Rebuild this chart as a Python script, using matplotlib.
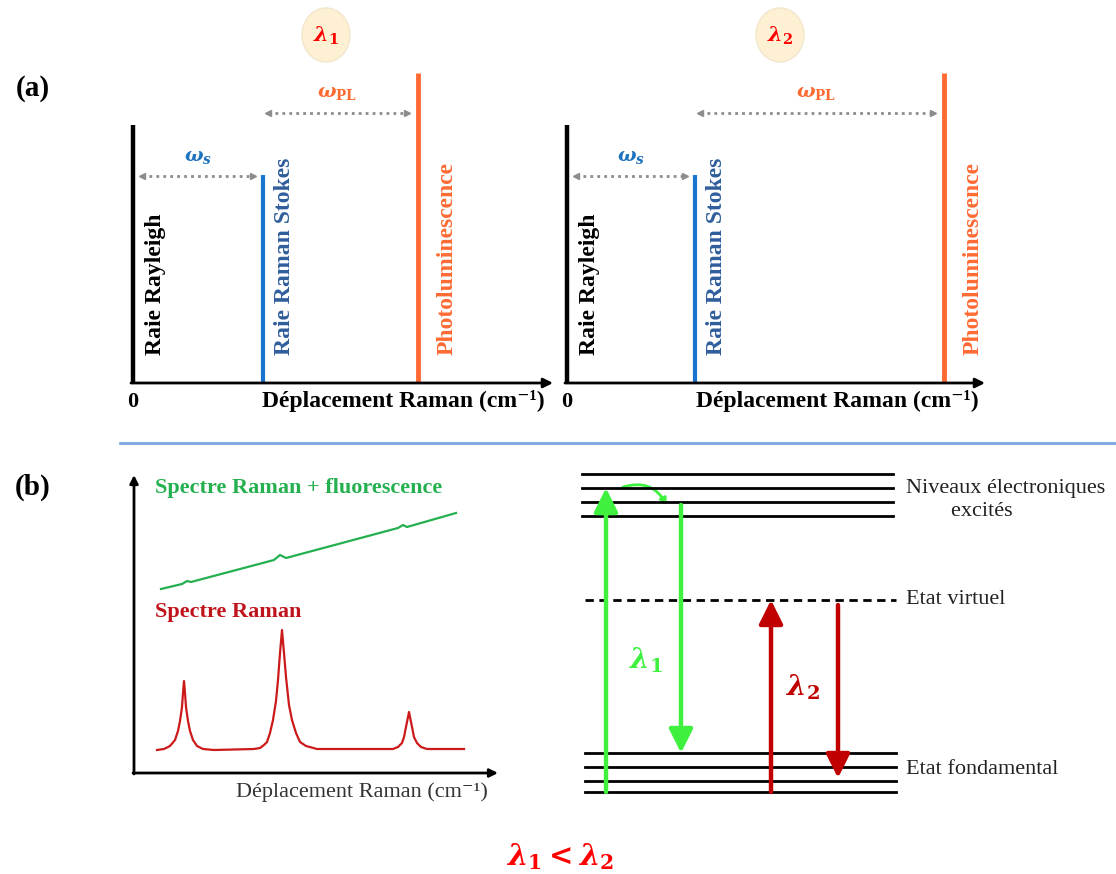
import matplotlib
matplotlib.use("Agg")
import matplotlib.pyplot as plt
from matplotlib.patches import Ellipse, FancyArrowPatch

plt.rcParams["mathtext.fontset"] = "custom"
plt.rcParams["mathtext.it"] = "DejaVu Serif:italic:bold"
plt.rcParams["mathtext.rm"] = "DejaVu Serif:bold"
plt.rcParams["mathtext.bf"] = "DejaVu Serif:bold"

W, H = 1116, 874
SERIF = ["Liberation Serif", "DejaVu Serif"]

# ---- data -------------------------------------------------------------
# panel (a): line positions (shift from Rayleigh) and heights, one entry per sub panel
a_lasers = [r"$\lambda_1$", r"$\lambda_2$"]
a_stokes_x = [130, 128]
a_pl_x = [285, 377]
a_axis_len = [420, 418]
a_heights = [258, 208, 310]          # Rayleigh, Stokes, PL
a_labels = ["Raie Rayleigh", "Raie Raman Stokes", "Photoluminescence"]

# panel (b) left: spectra
raman_x = [23, 30, 36, 41, 44, 46, 48, 49, 50, 51, 52, 54, 56, 59, 63, 69, 80,
           120, 126, 130, 133, 136, 139, 142, 144, 146, 148, 150, 152, 155, 158, 162, 166, 172, 183,
           259, 264, 268, 270, 272, 274, 275, 276, 278, 280, 283, 287, 293, 330]
raman_y = [23, 24, 27, 33, 42, 52, 66, 80, 92, 80, 66, 52, 42, 33, 27, 24, 23,
           24, 25, 28, 31, 40, 53, 72, 93, 120, 143, 120, 96, 68, 53, 40, 31, 27, 24,
           24, 26, 30, 36, 46, 56, 61, 56, 46, 36, 30, 26, 24, 24]
fluo_x = [27, 48, 53, 57, 140, 146, 152, 264, 269, 273, 322]
fluo_y = [184, 189, 192, 191, 213, 218, 215, 245, 248, 246, 260]

# panel (b) right: energy levels
excited_levels = [336, 322, 308, 294]
virtual_level = 210
ground_levels = [57, 43, 29, 18]
level_names = ["Niveaux électroniques\n        excités", "Etat virtuel", "Etat fondamental"]

fig = plt.figure(figsize=(W / 100, H / 100), dpi=100)


def px_axes(x0, y0, x1, y1, below=0):
    # axes in pixel units, origin at (x0, y1 - below)
    ax = fig.add_axes([x0 / W, 1 - y1 / H, (x1 - x0) / W, (y1 - y0) / H])
    ax.set_xlim(0, x1 - x0)
    ax.set_ylim(-below, y1 - y0 - below)
    ax.axis("off")
    return ax


# background layer: panel letters, laser circles, separator
bg = fig.add_axes([0, 0, 1, 1])
bg.set_xlim(0, W)
bg.set_ylim(H, 0)
bg.axis("off")
bg.text(33, 88, "(a)", fontsize=21, fontweight="bold", family=SERIF, ha="center", va="center")
bg.text(33, 487, "(b)", fontsize=21, fontweight="bold", family=SERIF, ha="center", va="center")
bg.plot([120, W], [443, 443], color="#7ba7e0", lw=2)
for cx, lab in zip([326, 780], a_lasers):
    bg.add_patch(Ellipse((cx, 35), 48, 54, facecolor="#fdf0d3", edgecolor="#f2e6cc", lw=1))
    bg.text(cx, 36, lab, color="#ff0000", fontsize=15, ha="center", va="center")
bg.text(560, 857, r"$\lambda_1 < \lambda_2$", color="#ff0000", fontsize=21, ha="center", va="center")

# ---- panel (a) ---------------------------------------------------------
for i, x0 in enumerate([133, 567]):
    ax = px_axes(x0, 40, x0 + 440, 423, below=40)
    xs = [0, a_stokes_x[i], a_pl_x[i]]
    cols = ["black", "#1874cd", "#ff6a33"]
    tcols = ["black", "#2f5e9c", "#ff6a33"]
    lws = [3.2, 3, 3.5]
    ax.annotate("", xy=(a_axis_len[i], 0), xytext=(-2, 0), annotation_clip=False,
                arrowprops=dict(arrowstyle="-|>", lw=2, color="black", mutation_scale=14,
                                shrinkA=0, shrinkB=0))
    for x, h, c, tc, lw, lab, dx in zip(xs, a_heights, cols, tcols, lws, a_labels, [22, 21, 29]):
        ax.plot([x, x], [0, h], color=c, lw=lw, solid_capstyle="butt", clip_on=False)
        ax.text(x + dx, 28, lab, rotation=90, rotation_mode="anchor", ha="left", va="center",
                color=tc, fontsize=17, fontweight="bold", family=SERIF)
    # dotted spacing arrows
    for xa, xb, y, lab, col, ly in [(9, a_stokes_x[i] - 10, 207, r"$\omega_s$", "#1e73be", 226),
                                    (a_stokes_x[i] + 5, a_pl_x[i] - 11, 270,
                                     r"$\omega_{\mathrm{PL}}$", "#ff6a33", 290)]:
        ax.plot([xa, xb], [y, y], color="#8c8c8c", lw=2, ls=(0, (1, 1.5)))
        ax.plot([xa], [y], marker="<", color="#8c8c8c", ms=5)
        ax.plot([xb], [y], marker=">", color="#8c8c8c", ms=5)
        ax.text((xa + xb) / 2, ly, lab, color=col, fontsize=14, ha="center", va="center")
    ax.text(0, -19, "0", fontsize=16, fontweight="bold", family=SERIF, ha="center", va="center")
    ax.text(270, -18, "Déplacement Raman (cm⁻¹)", fontsize=17, fontweight="bold",
            family=SERIF, ha="center", va="center")

# ---- panel (b) left: spectra ------------------------------------------
sp = px_axes(134, 470, 510, 813, below=40)
sp.annotate("", xy=(0, 298), xytext=(0, -1), annotation_clip=False,
            arrowprops=dict(arrowstyle="-|>", lw=2, color="black", mutation_scale=12,
                            shrinkA=0, shrinkB=0))
sp.annotate("", xy=(364, 0), xytext=(-1, 0), annotation_clip=False,
            arrowprops=dict(arrowstyle="-|>", lw=2, color="black", mutation_scale=12,
                            shrinkA=0, shrinkB=0))
sp.plot(raman_x, raman_y, color="#cc1a1a", lw=1.6)
sp.plot(fluo_x, fluo_y, color="#25b050", lw=1.6)
sp.text(21, 285, "Spectre Raman + fluorescence", color="#25b050", fontsize=16,
        fontweight="bold", family=SERIF, va="center")
sp.text(21, 161, "Spectre Raman", color="#c0141c", fontsize=16, fontweight="bold",
        family=SERIF, va="center")
sp.text(228, -19, "Déplacement Raman (cm⁻¹)", fontsize=16, family=SERIF,
        ha="center", va="center", color="#333333")

# ---- panel (b) right: energy diagram -----------------------------------
en = px_axes(560, 460, 1116, 810)
for y in excited_levels:
    en.plot([22, 333], [y, y], color="black", lw=2)
for y in ground_levels:
    en.plot([25, 336], [y, y], color="black", lw=2)
en.plot([25, 336], [virtual_level, virtual_level], color="black", lw=2, ls=(0, (3, 2)))

green, red = "#3ff03f", "#c00000"


def varrow(x, y0, y1, col):
    en.annotate("", xy=(x, y1), xytext=(x, y0),
                arrowprops=dict(arrowstyle="-|>,head_width=0.45,head_length=0.9", lw=3.2,
                                color=col, mutation_scale=16, shrinkA=0, shrinkB=0))


varrow(46, ground_levels[-1], excited_levels[1], green)
varrow(121, 305, ground_levels[0], green)
varrow(211, ground_levels[-1], virtual_level, red)
varrow(278, 205, 32, red)
en.add_patch(FancyArrowPatch((60, 322), (108, 302), connectionstyle="arc3,rad=-0.45",
                             arrowstyle="-|>", mutation_scale=10, lw=2, color=green))
en.text(86, 150, r"$\lambda_1$", color=green, fontsize=20, ha="center", va="center")
en.text(243, 123, r"$\lambda_2$", color=red, fontsize=20, ha="center", va="center")
en.text(346, 310, level_names[0], fontsize=16, family=SERIF, va="center", color="#222222",
        linespacing=1.35)
en.text(346, virtual_level, level_names[1], fontsize=16, family=SERIF, va="center", color="#222222")
en.text(346, 40, level_names[2], fontsize=16, family=SERIF, va="center", color="#222222")

fig.savefig("out.png", dpi=100)
